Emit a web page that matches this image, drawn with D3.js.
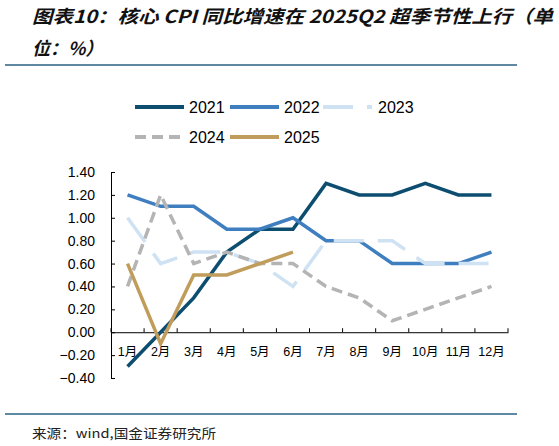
<!DOCTYPE html>
<html><head><meta charset="utf-8">
<script src="https://cdn.jsdelivr.net/npm/d3@7/dist/d3.min.js"></script>
<style>
html,body{margin:0;padding:0;background:#fff;}
svg{display:block;}
</style></head>
<body>
<svg id="c" width="559" height="446"></svg>
<script>
const months = ["1月","2月","3月","4月","5月","6月","7月","8月","9月","10月","11月","12月"];
const yTicks = [-0.4,-0.2,0,0.2,0.4,0.6,0.8,1.0,1.2,1.4];
const s2021 = [-0.3,0.0,0.3,0.7,0.9,0.9,1.3,1.2,1.2,1.3,1.2,1.2];
const s2022 = [1.2,1.1,1.1,0.9,0.9,1.0,0.8,0.8,0.6,0.6,0.6,0.7];
const s2023 = [1.0,0.6,0.7,0.7,0.6,0.4,0.8,0.8,0.8,0.6,0.6,0.6];
const s2024 = [0.4,1.2,0.6,0.7,0.6,0.6,0.4,0.3,0.1,0.2,0.3,0.4];
const s2025 = [0.6,-0.1,0.5,0.5,0.6,0.7];
const seriesNames = ["2021","2022","2023","2024","2025"];

const series = [
  {name:"2021", values:s2021, color:"#0c4d70", dash:null},
  {name:"2022", values:s2022, color:"#3f7fc0", dash:null},
  {name:"2023", values:s2023, color:"#cfe2f3", dash:"30,14"},
  {name:"2024", values:s2024, color:"#b4b4b4", dash:"11,6"},
  {name:"2025", values:s2025, color:"#c19d5c", dash:null}
];

const svg = d3.select("#c");
const W = 559;

// Title
const title = svg.append("text")
  .attr("font-family","'Noto Sans CJK SC', sans-serif")
  .attr("font-size",18).attr("font-weight","bold").attr("font-style","italic")
  .attr("fill","#111");
title.append("tspan").attr("x",32).attr("y",23)
  .attr("textLength",521).attr("lengthAdjust","spacingAndGlyphs")
  .text("图表10：核心 CPI 同比增速在 2025Q2 超季节性上行（单");
title.append("tspan").attr("x",32).attr("y",55).text("位：%）");

// Rules
svg.append("line").attr("x1",5).attr("x2",517).attr("y1",65).attr("y2",65)
  .attr("stroke","#2a6183").attr("stroke-width",1.5);
svg.append("line").attr("x1",5).attr("x2",517).attr("y1",414).attr("y2",414)
  .attr("stroke","#2a6183").attr("stroke-width",1.5);

// Source
svg.append("text").attr("x",32).attr("y",438)
  .attr("font-family","'Noto Sans CJK SC', sans-serif").attr("font-size",13)
  .attr("fill","#222").attr("textLength",184).attr("lengthAdjust","spacingAndGlyphs")
  .text("来源：wind,国金证券研究所");

// Scales
const x = d3.scaleBand().domain(months).range([111,508]).padding(0);
const y = d3.scaleLinear().domain([-0.4,1.4]).range([378,172]);

// Y axis
const gy = svg.append("g").attr("transform","translate(111,0)")
  .call(d3.axisLeft(y).tickValues(yTicks).tickSize(-4).tickSizeOuter(0).tickPadding(16)
    .tickFormat(d3.format(".2f")));
gy.selectAll("text").attr("font-family","'Liberation Sans', Arial, sans-serif")
  .attr("font-size",14).attr("fill","#000");
gy.selectAll("line,path").attr("stroke","#000");

// X axis
const gx = svg.append("g").attr("transform",`translate(0,${y(0)})`)
  .call(d3.axisBottom(x).tickSize(0).tickSizeOuter(0).tickPadding(15));
gx.selectAll("text").attr("font-family","'Liberation Sans', 'Noto Sans CJK SC', sans-serif")
  .attr("font-size",12.5).attr("fill","#000");
gx.select("path").attr("stroke","#000");
const bounds = months.map(m=>x(m)).concat([x(months[months.length-1])+x.bandwidth()]);
gx.selectAll("line.tk").data(bounds).join("line").attr("class","tk")
  .attr("x1",d=>d).attr("x2",d=>d).attr("y1",0).attr("y2",-4).attr("stroke","#000");

// Lines
const line = d3.line().x((d,i)=>x(months[i])+x.bandwidth()/2).y(d=>y(d));
svg.append("g").selectAll("path").data(series).join("path")
  .attr("d",d=>line(d.values)).attr("fill","none")
  .attr("stroke",d=>d.color).attr("stroke-width",3.5)
  .attr("stroke-dasharray",d=>d.dash)
  .attr("stroke-linejoin","miter");

// Legend
const legendPos = [
  {x:135,y:107},{x:230,y:107},{x:323,y:107},{x:135,y:137},{x:230,y:137}
];
const lg = svg.append("g").selectAll("g").data(series).join("g")
  .attr("transform",(d,i)=>`translate(${legendPos[i].x},${legendPos[i].y})`);
lg.append("line").attr("x1",0).attr("x2",49).attr("y1",0).attr("y2",0)
  .attr("stroke",d=>d.color).attr("stroke-width",4)
  .attr("stroke-dasharray",d=>d.dash);
lg.append("text").attr("x",(d,i)=> i===2 ? 55 : 54).attr("y",6)
  .attr("font-family","'Liberation Sans', Arial, sans-serif").attr("font-size",16)
  .attr("fill","#000").text((d,i)=>seriesNames[i]);
</script>
</body></html>
